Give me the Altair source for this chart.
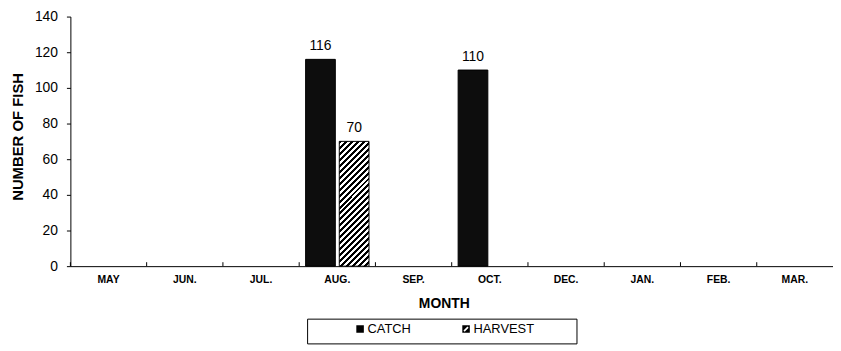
import altair as alt
import pandas as pd

# ---- data ----
months = ["MAY", "JUN.", "JUL.", "AUG.", "SEP.", "OCT.", "DEC.", "JAN.", "FEB.", "MAR."]
catch = [None, None, None, 116, None, 110, None, None, None, None]
harvest = [None, None, None, 70, None, None, None, None, None, None]
series = ["CATCH", "HARVEST"]
y_ticks = [0, 20, 40, 60, 80, 100, 120, 140]
y_max = 140

rows = []
for m, c, h in zip(months, catch, harvest):
    rows.append({"month": m, "series": "CATCH", "value": c})
    rows.append({"month": m, "series": "HARVEST", "value": h})
df = pd.DataFrame(rows)
df_m = pd.DataFrame({"month": months})

FONT = "Liberation Sans"
W, H = 770, 252

# ---- diagonal hatch as a striped linear gradient (style only) ----
bar_w = 30.0
bar_h = H * max(v for v in harvest if v is not None) / y_max
alpha = (bar_w + bar_h) / (bar_w ** 2 + bar_h ** 2)
n_stripes = 26
stops = []
for i in range(n_stripes):
    a, b, c = i / n_stripes, (i + 0.5) / n_stripes, (i + 1) / n_stripes
    stops += [{"offset": a, "color": "#000000"}, {"offset": b, "color": "#000000"},
              {"offset": b, "color": "#ffffff"}, {"offset": c, "color": "#ffffff"}]
hatch = {"gradient": "linear", "x1": 0, "y1": 0,
         "x2": bar_w * alpha, "y2": bar_h * alpha, "stops": stops}

x_axis = alt.Axis(title="MONTH", labelAngle=0, ticks=False, tickSize=0,
                  domainColor="black", domainWidth=1,
                  labelFont=FONT, labelFontSize=10.5, labelFontWeight="bold",
                  labelColor="black", labelPadding=9, labelBaseline="top",
                  titleFont=FONT, titleFontSize=14, titleFontWeight="bold",
                  titleColor="black", titleX=377, titleY=31, titleBaseline="top")
x_scale = alt.Scale(domain=months, paddingInner=0, paddingOuter=0)
x_enc = alt.X("month:N", sort=months, scale=x_scale, axis=x_axis)
xo_enc = alt.XOffset("series:N",
                     scale=alt.Scale(domain=series, paddingInner=0.118, paddingOuter=0.191))
y_enc = alt.Y("value:Q", scale=alt.Scale(domain=[0, y_max], nice=False),
              axis=alt.Axis(values=y_ticks, title="NUMBER OF FISH", grid=False,
                            tickSize=4, tickColor="black", domainColor="black",
                            labelFont=FONT, labelFontSize=14, labelColor="black",
                            labelPadding=9,
                            titleFont=FONT, titleFontSize=15, titleFontWeight="bold",
                            titleColor="black", titleX=-45, titleY=121))

base = alt.Chart(df)

catch_bars = base.transform_filter("datum.series == 'CATCH'").mark_bar(
    fill="#0d0d0d", stroke="black", strokeWidth=1
).encode(x=x_enc, xOffset=xo_enc, y=y_enc)

harvest_bars = base.transform_filter("datum.series == 'HARVEST'").mark_bar(
    fill=hatch, stroke="black", strokeWidth=1
).encode(x=x_enc, xOffset=xo_enc, y=y_enc)

labels = base.mark_text(baseline="bottom", dy=-6, font=FONT, fontSize=14, color="black").encode(
    x=x_enc, xOffset=xo_enc, y=y_enc, text=alt.Text("value:Q", format="d"))

# inward category-boundary ticks on the x axis
ticks = alt.Chart(df_m).mark_rule(color="black", strokeWidth=1).encode(
    x=alt.X("month:N", sort=months, scale=x_scale, axis=x_axis, bandPosition=0),
    y=alt.value(H), y2=alt.value(H - 4))

# legend symbols: visible square shifted right inside each entry (gives the
# frame its left margin), zero-area strokes set entry height / right margin
sq_path = ("M9.8,-0.95L11.7,-0.95L11.7,0.95L9.8,0.95Z"
           "M10.75,-2.6L10.75,2.6Z")
hv_path = ("M9.8,-0.95L11.7,-0.95L11.7,0.95L9.8,0.95Z"
           "M10.1,0.35L10.4,0.65L11.4,-0.35L11.1,-0.65Z"
           "M37.6,-2.6L37.6,2.6Z")
legend_pts = base.mark_point(filled=True, opacity=0, color="black").encode(
    x=x_enc, xOffset=xo_enc, y=y_enc,
    shape=alt.Shape("series:N",
                    scale=alt.Scale(domain=series, range=[sq_path, hv_path]),
                    legend=alt.Legend(
                        orient="none", legendX=239, legendY=305, direction="horizontal",
                        title=None,
                        strokeColor="black", fillColor="white", padding=4,
                        columnPadding=6, labelOffset=44,
                        labelFont=FONT, labelFontSize=13, labelColor="black",
                        symbolSize=64, symbolFillColor="black", symbolStrokeWidth=0,
                        symbolStrokeColor="transparent", symbolOpacity=1)))

chart = alt.layer(catch_bars, harvest_bars, labels, ticks, legend_pts).properties(
    width=W, height=H,
    padding={"left": 63, "top": 7, "right": 0, "bottom": 84},
    autosize=alt.AutoSizeParams(type="none"),
    background="white",
).configure_view(stroke=None)

chart.save("out.html", embed_options={"renderer": "svg", "actions": False})
